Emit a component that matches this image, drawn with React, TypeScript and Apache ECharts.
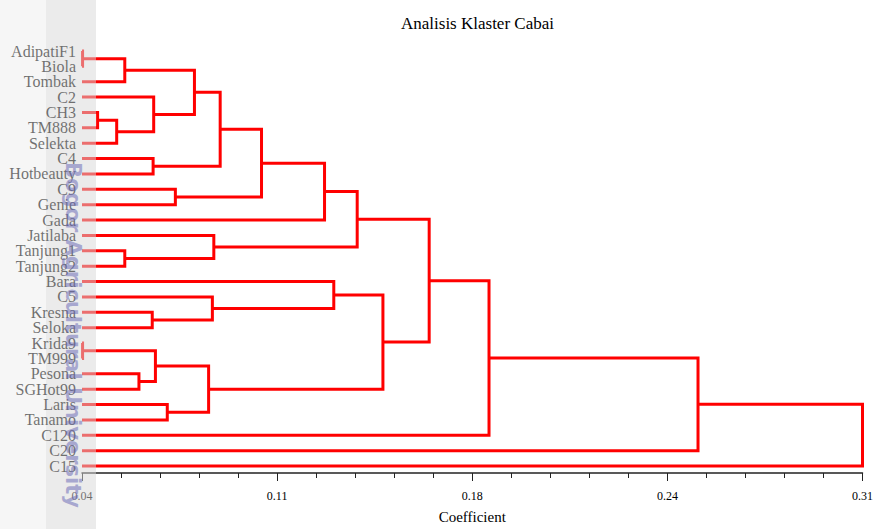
import React, { useEffect, useRef } from "react";
import * as echarts from "echarts";

// Leaf order (top to bottom)
const leaves = [
  "AdipatiF1", "Biola", "Tombak", "C2", "CH3", "TM888", "Selekta", "C4",
  "Hotbeauty", "C9", "Genie", "Gada", "Jatilaba", "Tanjung1", "Tanjung2",
  "Bara", "C5", "Kresna", "Seloka", "Krida9", "TM999", "Pesona", "SGHot99",
  "Laris", "Tanamo", "C120", "C20", "C15",
];

// Linkage: ids < 28 are leaves, id 28 + k is merge k
const mergeLeft = [0, 28, 4, 30, 3, 29, 7, 33, 9, 35, 37, 13, 12, 38, 17, 16, 15, 19, 21, 45, 23, 47, 44, 41, 51, 52, 53];
const mergeRight = [1, 2, 5, 6, 31, 32, 8, 34, 10, 36, 11, 14, 39, 40, 18, 42, 43, 20, 22, 46, 24, 48, 49, 50, 25, 26, 27];
const mergeHeight = [
  0.0402, 0.0548, 0.0454, 0.052, 0.0648, 0.0789, 0.0646, 0.0878, 0.0723,
  0.1021, 0.1239, 0.0548, 0.0856, 0.1352, 0.0643, 0.0851, 0.1271, 0.0402,
  0.0597, 0.0654, 0.0695, 0.0838, 0.1441, 0.1601, 0.1808, 0.2531, 0.31,
];

const xMin = 0.04;
const xMax = 0.31;
const xTickLabels = ["0.04", "0.11", "0.18", "0.24", "0.31"];
const minorTickCount = 21;

const title = "Analisis Klaster Cabai";
const xName = "Coefficient";
const watermark = "Bogor Agricultural University";

function buildLinks() {
  const nodeX: number[] = leaves.map(() => xMin);
  const nodeY: number[] = leaves.map((_, i) => i);
  const data: { coords: number[][] }[] = [];
  mergeHeight.forEach((h, k) => {
    const a = mergeLeft[k];
    const b = mergeRight[k];
    data.push({
      coords: [
        [nodeX[a], nodeY[a]],
        [h, nodeY[a]],
        [h, nodeY[b]],
        [nodeX[b], nodeY[b]],
      ],
    });
    nodeX.push(h);
    nodeY.push((nodeY[a] + nodeY[b]) / 2);
  });
  return data;
}

const SERIF = "'Liberation Serif', 'DejaVu Serif', serif";

export default function App() {
  const ref = useRef<HTMLDivElement>(null);

  useEffect(() => {
    if (!ref.current) return;
    const chart = echarts.init(ref.current, undefined, { renderer: "svg" });
    const minorCats = Array.from({ length: minorTickCount }, (_, i) => "m" + i);

    chart.setOption({
      animation: false,
      backgroundColor: "#ffffff",
      title: {
        text: title,
        left: 396,
        top: 10,
        textStyle: { fontFamily: SERIF, fontSize: 17, fontWeight: "normal", color: "#000" },
      },
      grid: { left: 82, right: 10, top: 51, bottom: 60 },
      xAxis: [
        { type: "value", min: xMin, max: xMax, show: false },
        {
          type: "category",
          data: xTickLabels,
          boundaryGap: false,
          position: "bottom",
          offset: 7,
          axisLine: { show: true, lineStyle: { color: "#222", width: 1.5 } },
          axisTick: { show: true, length: 8, interval: 0, lineStyle: { color: "#222" } },
          axisLabel: {
            interval: 0,
            margin: 17,
            fontFamily: SERIF,
            fontSize: 12,
            color: "#000",
          },
          splitLine: { show: false },
          name: xName,
          nameLocation: "middle",
          nameGap: 36,
          nameTextStyle: { fontFamily: SERIF, fontSize: 15, color: "#000" },
        },
        {
          type: "category",
          data: minorCats,
          boundaryGap: false,
          position: "bottom",
          offset: 7,
          axisLine: { show: false },
          axisTick: { show: true, length: 5, interval: 0, lineStyle: { color: "#222" } },
          axisLabel: { show: false },
          splitLine: { show: false },
        },
      ],
      yAxis: [
        {
          type: "value",
          inverse: true,
          min: 0,
          max: leaves.length - 1,
          show: false,
        },
        {
          type: "category",
          data: leaves,
          inverse: true,
          boundaryGap: false,
          position: "left",
          axisLine: { show: false },
          axisTick: { show: false },
          splitLine: { show: false },
          axisLabel: {
            interval: 0,
            margin: 6,
            fontFamily: SERIF,
            fontSize: 16,
            color: "#000",
          },
        },
      ],
      series: [
        {
          type: "lines",
          coordinateSystem: "cartesian2d",
          xAxisIndex: 0,
          yAxisIndex: 0,
          polyline: true,
          clip: false,
          silent: true,
          lineStyle: { color: "#ff0000", width: 3, opacity: 1 },
          data: buildLinks(),
        },
      ],
      graphic: [
        {
          type: "rect",
          z: 100,
          silent: true,
          shape: { x: 0, y: 0, width: 46, height: 529 },
          style: { fill: "rgba(236,236,236,0.47)" },
        },
        {
          type: "rect",
          z: 100,
          silent: true,
          shape: { x: 46, y: 0, width: 50, height: 529 },
          style: { fill: "rgba(216,216,216,0.51)" },
        },
        {
          type: "text",
          z: 101,
          silent: true,
          x: 73,
          y: 162,
          rotation: -Math.PI / 2,
          style: {
            text: watermark,
            font: "bold 21px 'DejaVu Sans', sans-serif",
            fill: "rgba(100,100,180,0.5)",
            textAlign: "left",
            textVerticalAlign: "middle",
            align: "left",
            verticalAlign: "middle",
          },
        },
      ],
    });

    return () => chart.dispose();
  }, []);

  return (
    <div
      ref={ref}
      style={{ position: "fixed", left: 0, top: 0, width: 876, height: 529 }}
    />
  );
}
